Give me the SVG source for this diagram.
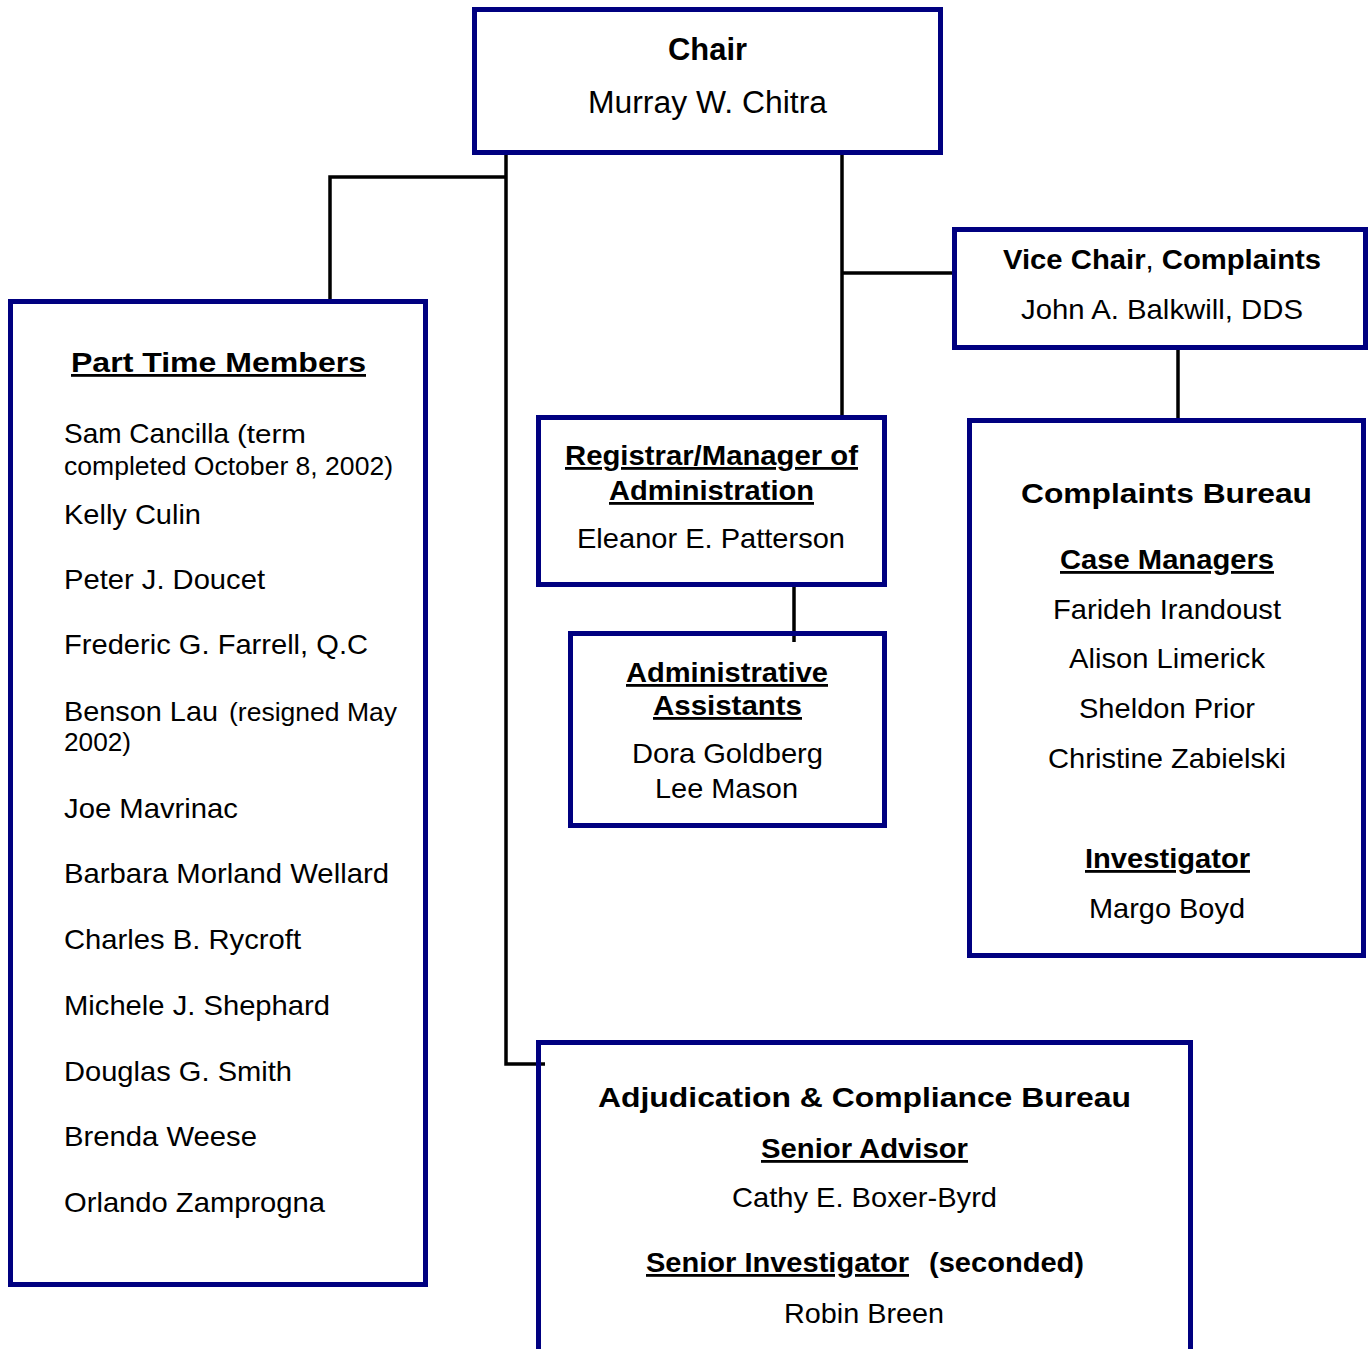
<svg xmlns="http://www.w3.org/2000/svg" width="1369" height="1349" viewBox="0 0 1369 1349">
<style>
  .box { fill: none; stroke: #000080; stroke-width: 5; }
  .conn { fill: none; stroke: #000000; stroke-width: 3.5; }
  text { font-family: "Liberation Sans", Arial, sans-serif; font-size: 28px; fill: #000000; }
  .b { font-weight: bold; }
  .u { text-decoration: underline; }
  .s { font-size: 25px; }
  .l { font-size: 31px; }
</style>
<rect width="1369" height="1349" fill="#ffffff"/>

<g id="connectors">
  <path class="conn" d="M506,155 V1064 H545"/>
  <path class="conn" d="M506,177 H330 V299"/>
  <path class="conn" d="M842,155 V415"/>
  <path class="conn" d="M842,273 H953"/>
  <path class="conn" d="M1178,350 V418"/>
  <path class="conn" d="M794,587 V642"/>
</g>

<g id="chair">
  <rect class="box" x="474.5" y="9.5" width="466" height="143"/>
  <text class="b l" x="668" y="60" textLength="79" lengthAdjust="spacingAndGlyphs">Chair</text>
  <text class="l" x="588" y="113" textLength="239" lengthAdjust="spacingAndGlyphs">Murray W. Chitra</text>
</g>

<g id="vice-chair">
  <rect class="box" x="954.5" y="229.5" width="411" height="118"/>
  <text class="b" x="1003" y="269" textLength="318" lengthAdjust="spacingAndGlyphs">Vice Chair<tspan font-weight="normal">,</tspan> Complaints</text>
  <text x="1021" y="319" textLength="282" lengthAdjust="spacingAndGlyphs">John A. Balkwill, DDS</text>
</g>

<g id="part-time-members">
  <rect class="box" x="10.5" y="301.5" width="415" height="983"/>
  <text class="b u" x="71" y="372" font-size="29" textLength="295" lengthAdjust="spacingAndGlyphs">Part Time Members</text>
  <text x="64" y="443" textLength="165" lengthAdjust="spacingAndGlyphs">Sam Cancilla</text>
  <text class="s" x="237" y="443" textLength="69" lengthAdjust="spacingAndGlyphs">(term</text>
  <text class="s" x="64" y="475" textLength="329" lengthAdjust="spacingAndGlyphs">completed October 8, 2002)</text>
  <text x="64" y="524" textLength="137" lengthAdjust="spacingAndGlyphs">Kelly Culin</text>
  <text x="64" y="589" textLength="201" lengthAdjust="spacingAndGlyphs">Peter J. Doucet</text>
  <text x="64" y="654" textLength="304" lengthAdjust="spacingAndGlyphs">Frederic G. Farrell, Q.C</text>
  <text x="64" y="721" textLength="154" lengthAdjust="spacingAndGlyphs">Benson Lau</text>
  <text class="s" x="229" y="721" textLength="168" lengthAdjust="spacingAndGlyphs">(resigned May</text>
  <text class="s" x="64" y="751" textLength="67" lengthAdjust="spacingAndGlyphs">2002)</text>
  <text x="64" y="818" textLength="174" lengthAdjust="spacingAndGlyphs">Joe Mavrinac</text>
  <text x="64" y="883" textLength="325" lengthAdjust="spacingAndGlyphs">Barbara Morland Wellard</text>
  <text x="64" y="949" textLength="237" lengthAdjust="spacingAndGlyphs">Charles B. Rycroft</text>
  <text x="64" y="1015" textLength="266" lengthAdjust="spacingAndGlyphs">Michele J. Shephard</text>
  <text x="64" y="1081" textLength="228" lengthAdjust="spacingAndGlyphs">Douglas G. Smith</text>
  <text x="64" y="1146" textLength="193" lengthAdjust="spacingAndGlyphs">Brenda Weese</text>
  <text x="64" y="1212" textLength="261" lengthAdjust="spacingAndGlyphs">Orlando Zamprogna</text>
</g>

<g id="registrar">
  <rect class="box" x="538.5" y="417.5" width="346" height="167"/>
  <text class="b u" x="565" y="465" textLength="293" lengthAdjust="spacingAndGlyphs">Registrar/Manager of</text>
  <text class="b u" x="609" y="500" textLength="205" lengthAdjust="spacingAndGlyphs">Administration</text>
  <text x="577" y="548" textLength="268" lengthAdjust="spacingAndGlyphs">Eleanor E. Patterson</text>
</g>

<g id="admin-assistants">
  <rect class="box" x="570.5" y="633.5" width="314" height="192"/>
  <text class="b u" x="626" y="682" textLength="202" lengthAdjust="spacingAndGlyphs">Administrative</text>
  <text class="b u" x="653" y="715" textLength="149" lengthAdjust="spacingAndGlyphs">Assistants</text>
  <text x="632" y="763" textLength="191" lengthAdjust="spacingAndGlyphs">Dora Goldberg</text>
  <text x="655" y="798" textLength="143" lengthAdjust="spacingAndGlyphs">Lee Mason</text>
</g>

<g id="complaints-bureau">
  <rect class="box" x="969.5" y="420.5" width="394" height="535"/>
  <text class="b" x="1021" y="503" font-size="29" textLength="291" lengthAdjust="spacingAndGlyphs">Complaints Bureau</text>
  <text class="b u" x="1060" y="569" textLength="214" lengthAdjust="spacingAndGlyphs">Case Managers</text>
  <text x="1053" y="619" textLength="228" lengthAdjust="spacingAndGlyphs">Farideh Irandoust</text>
  <text x="1069" y="668" textLength="196" lengthAdjust="spacingAndGlyphs">Alison Limerick</text>
  <text x="1079" y="718" textLength="176" lengthAdjust="spacingAndGlyphs">Sheldon Prior</text>
  <text x="1048" y="768" textLength="238" lengthAdjust="spacingAndGlyphs">Christine Zabielski</text>
  <text class="b u" x="1085" y="868" textLength="165" lengthAdjust="spacingAndGlyphs">Investigator</text>
  <text x="1089" y="918" textLength="156" lengthAdjust="spacingAndGlyphs">Margo Boyd</text>
</g>

<g id="adjudication-bureau">
  <rect class="box" x="538.5" y="1042.5" width="652" height="400"/>
  <text class="b" x="598" y="1107" font-size="30" textLength="533" lengthAdjust="spacingAndGlyphs">Adjudication &amp; Compliance Bureau</text>
  <text class="b u" x="761" y="1158" textLength="207" lengthAdjust="spacingAndGlyphs">Senior Advisor</text>
  <text x="732" y="1207" textLength="265" lengthAdjust="spacingAndGlyphs">Cathy E. Boxer-Byrd</text>
  <text class="b u" x="646" y="1272" textLength="263" lengthAdjust="spacingAndGlyphs">Senior Investigator</text>
  <text class="b" x="929" y="1272" textLength="155" lengthAdjust="spacingAndGlyphs">(seconded)</text>
  <text x="784" y="1323" textLength="160" lengthAdjust="spacingAndGlyphs">Robin Breen</text>
</g>
</svg>
